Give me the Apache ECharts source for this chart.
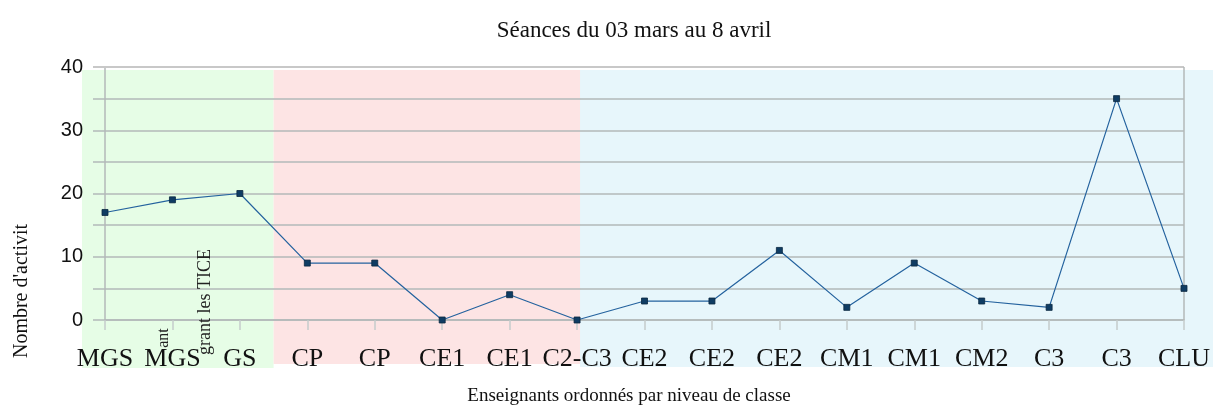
<!DOCTYPE html>
<html><head><meta charset="utf-8">
<script src="https://cdn.jsdelivr.net/npm/echarts@6/dist/echarts.min.js"></script>
<style>html,body{margin:0;padding:0;background:#fff}#c{width:1213px;height:405px}</style>
</head><body><div id="c"></div>
<script>
var categories = ['MGS','MGS','GS','CP','CP','CE1','CE1','C2-C3','CE2','CE2','CE2','CM1','CM1','CM2','C3','C3','CLU'];
var values = [17,19,20,9,9,0,4,0,3,3,11,2,9,3,2,35,5];
var yTicks = [0,10,20,30,40];
var titleText = 'Séances du 03 mars au 8 avril';
var xName = 'Enseignants ordonnés par niveau de classe';
var yName = "Nombre d'activit";

(function(){
var chart = echarts.init(document.getElementById('c'), null, {renderer:'canvas'});
var axisGray = '#b3b9b9';
chart.setOption({
  animation:false,
  grid:{left:105, right:26, top:67, bottom:85, show:false},
  xAxis:{type:'category', data:categories, boundaryGap:false,
    axisLine:{show:true, lineStyle:{color:axisGray, width:1.5}},
    axisTick:{show:true, length:10, alignWithLabel:true, lineStyle:{color:'#c5cccc', width:1.5}},
    axisLabel:{interval:0, margin:26, fontFamily:'Liberation Serif', fontSize:26, color:'#111'},
    splitLine:{show:false}},
  yAxis:{type:'value', min:yTicks[0], max:yTicks[yTicks.length-1], interval:10,
    axisLine:{show:true, lineStyle:{color:axisGray, width:1.5}},
    axisTick:{show:true, length:12, lineStyle:{color:axisGray, width:1.5}},
    minorTick:{show:true, splitNumber:2, length:12, lineStyle:{color:axisGray, width:1.5}},
    minorSplitLine:{show:true, lineStyle:{color:axisGray, width:1.5}},
    splitLine:{show:true, lineStyle:{color:axisGray, width:1.5}},
    axisLabel:{margin:22, fontFamily:'Liberation Sans', fontSize:20, color:'#111'}},
  series:[{type:'line', data:values, symbol:'rect', symbolSize:6,
    lineStyle:{color:'#24629e', width:1.2},
    itemStyle:{color:'#0f3c63', borderColor:'#0a2740', borderWidth:0.8},
    z:5}]
});

function px(i){return chart.convertToPixel({xAxisIndex:0}, i);}
function py(v){return chart.convertToPixel({yAxisIndex:0}, v);}
var yTop = py(40), yBot = py(0);
var x0 = px(0), x2 = px(2), x3 = px(3), x7 = px(7), xl = px(categories.length-1);
var bandTop = yTop + 3, bandBot = 368;
var greenL = x0 - 23, greenR = (x2 + x3)/2, pinkR = x7 + 3;
chart.setOption({
  graphic:[
    {type:'rect', z:-10, silent:true, shape:{x:greenL, y:bandTop, width:greenR-greenL, height:bandBot-bandTop}, style:{fill:'#e6fde6'}},
    {type:'rect', z:-10, silent:true, shape:{x:greenR, y:bandTop, width:pinkR-greenR, height:bandBot-4-bandTop}, style:{fill:'#fde4e4'}},
    {type:'rect', z:-10, silent:true, shape:{x:pinkR, y:bandTop, width:1213-pinkR, height:bandBot-1-bandTop}, style:{fill:'#e7f6fb'}},
    {type:'line', z:1, silent:true, shape:{x1:x0-12, y1:yTop, x2:xl, y2:yTop}, style:{stroke:'#c8c8c8', lineWidth:2}},
    {type:'line', z:1, silent:true, shape:{x1:xl, y1:yTop, x2:xl, y2:yBot}, style:{stroke:axisGray, lineWidth:1.5}},
    {type:'text', z:6, silent:true, x:634, y:31, style:{text:titleText, font:'23px "Liberation Serif"', fill:'#111', align:'center', verticalAlign:'middle'}},
    {type:'text', z:6, silent:true, x:22, y:291, rotation:Math.PI/2, style:{text:yName, font:'20px "Liberation Serif"', fill:'#111', align:'center', verticalAlign:'middle'}},
    {type:'text', z:6, silent:true, x:629, y:396, style:{text:xName, font:'19px "Liberation Serif"', fill:'#111', align:'center', verticalAlign:'middle'}},
    {type:'text', z:6, silent:true, x:205, y:302, rotation:Math.PI/2, style:{text:'grant les TICE', font:'18px "Liberation Serif"', fill:'#222', align:'center', verticalAlign:'middle'}},
    {type:'text', z:6, silent:true, x:164, y:338, rotation:Math.PI/2, style:{text:'ant', font:'16px "Liberation Serif"', fill:'#222', align:'center', verticalAlign:'middle'}}
  ]
});
})();
</script>
</body></html>
